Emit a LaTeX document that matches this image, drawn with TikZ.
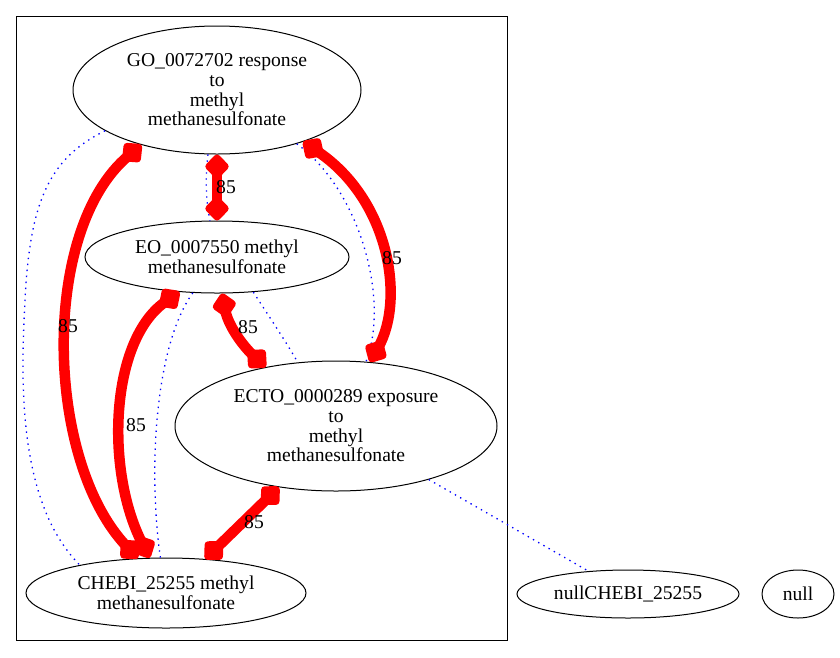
\documentclass[tikz,border=0pt]{standalone}
\usepackage{fontspec}
\setmainfont{Liberation Serif}
\usetikzlibrary{shapes.geometric,arrows.meta}
\begin{document}
\begin{tikzpicture}[x=1pt,y=-1pt,
  every node/.style={font=\fontsize{19.6}{19.7}\selectfont},
  ent/.style={draw, ellipse, line width=1pt, inner sep=0pt, align=center},
  rel/.style={draw=red, line width=10.5pt,
    {Diamond[length=27pt,width=26pt,line width=7pt,round]}-{Diamond[length=27pt,width=26pt,line width=7pt,round]}},
  lnk/.style={draw=blue, line width=1.3pt, dash pattern=on 1.4pt off 4.6pt},
  lab/.style={inner sep=0pt}]
\useasboundingbox (0,0) rectangle (840,657);
\draw[line width=1pt] (16,16) rectangle (507,640);

\node[ent, minimum width=288pt, minimum height=128pt] (go) at (217,90) {GO\_0072702 response\\to\\methyl\\methanesulfonate};
\node[ent, minimum width=264pt, minimum height=72pt] (eo) at (217,257) {EO\_0007550 methyl\\methanesulfonate};
\node[ent, minimum width=322pt, minimum height=130pt] (ecto) at (336,426) {ECTO\_0000289 exposure\\to\\methyl\\methanesulfonate};
\node[ent, minimum width=280pt, minimum height=70pt] (chebi) at (166,593) {CHEBI\_25255 methyl\\methanesulfonate};
\node[ent, minimum width=222pt, minimum height=48pt] (nullchebi) at (628,594) {nullCHEBI\_25255};
\node[ent, minimum width=72pt, minimum height=48pt] (null) at (798,594) {null};

% dotted links
\draw[lnk] (go.262) .. controls (205,180) and (206,200) .. (eo.101);
\draw[lnk] (go.200.7) .. controls (50,158) and (30,200) .. (25,300) .. controls (21.5,370) and (15,500) .. (chebi.162);
\draw[lnk] (go.326.6) .. controls (360,190) and (390,300) .. (ecto.65.6);
\draw[lnk] (eo.236.7) .. controls (155,345) and (148,470) .. (chebi.99.5);
\draw[lnk] (eo.316) .. controls (268,315) and (285,340) .. (ecto.121);
\draw[lnk] (ecto.330) -- (nullchebi.150.6);

% red relations
\draw[rel] (go.270) -- (eo.90);
\draw[rel] (go.329) .. controls (390,200) and (405,300) .. (ecto.62.7);
\draw[rel] (go.216) .. controls (40,230) and (45,460) .. (chebi.129);
\draw[rel] (eo.278) .. controls (228,325) and (242,345) .. (ecto.140.5);
\draw[rel] (eo.223) .. controls (110,340) and (105,470) .. (chebi.115);
\draw[rel] (ecto.227) -- (chebi.41);

\node[lab] (l1) at (226,187) {85};
\node[lab] (l2) at (392,258) {85};
\node[lab] (l3) at (68,326) {85};
\node[lab] (l4) at (248,327) {85};
\node[lab] (l5) at (136,425) {85};
\node[lab] (l6) at (254,522) {85};
\end{tikzpicture}
\end{document}
